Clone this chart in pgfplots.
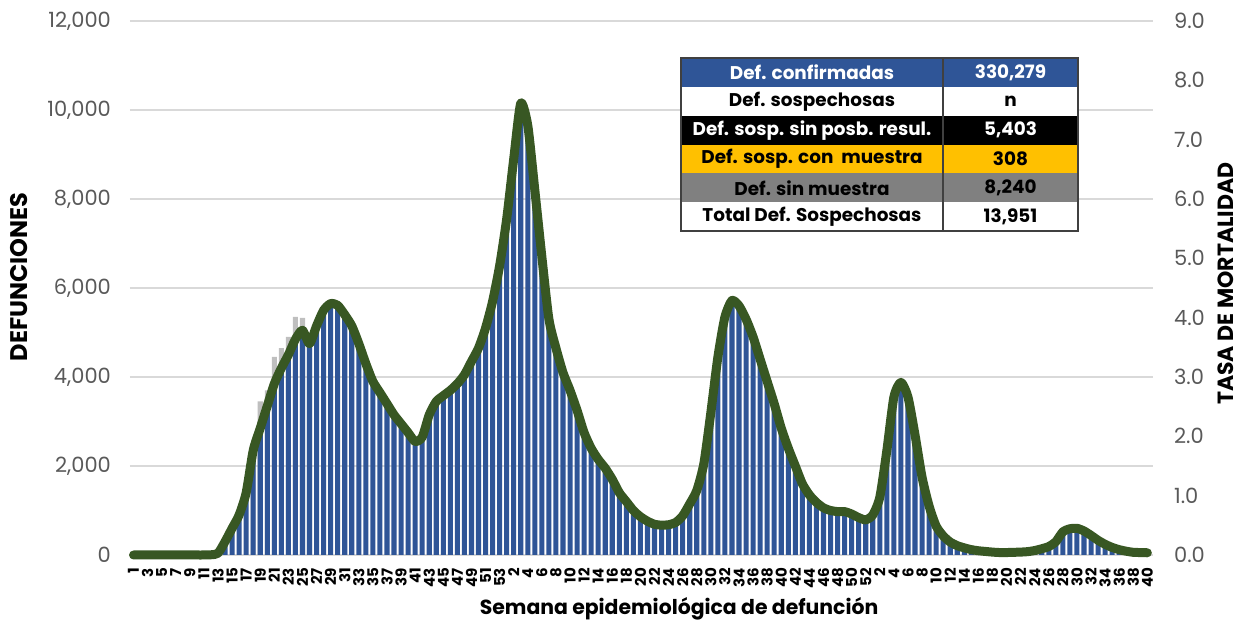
\documentclass[border=0pt]{standalone}
\usepackage{fontspec}
\setmainfont{Poppins}
\usepackage{pgfplots}
\usepackage{pgfplotstable}
\pgfplotsset{compat=1.18}
\definecolor{barblue}{RGB}{47,85,151}
\definecolor{linegreen}{RGB}{56,87,35}
\definecolor{gridgray}{RGB}{217,217,217}
\definecolor{tickgray}{RGB}{89,89,89}
\definecolor{susgray}{RGB}{191,191,191}
\definecolor{tblblue}{RGB}{47,85,151}
\definecolor{tblgold}{RGB}{255,192,0}
\definecolor{tblgray}{RGB}{128,128,128}
\definecolor{tblborder}{RGB}{64,64,64}

\pgfplotstableread{
x y
0 0
1 0
2 0
3 0
4 0
5 0
6 0
7 0
8 0
9 0
10 0
11 5
12 40
13 300
14 600
15 900
16 1400
17 2350
18 2850
19 3350
20 3850
21 4200
22 4500
23 4850
24 5050
25 4750
26 5150
27 5500
28 5650
29 5610
30 5400
31 5150
32 4750
33 4300
34 3900
35 3650
36 3400
37 3150
38 2950
39 2750
40 2550
41 2650
42 3150
43 3450
44 3580
45 3700
46 3850
47 4050
48 4350
49 4650
50 5100
51 5700
52 6500
53 7550
54 8900
55 10150
56 9650
57 8200
58 6700
59 5300
60 4650
61 4100
62 3700
63 3250
64 2750
65 2400
66 2150
67 1950
68 1700
69 1400
70 1200
71 1000
72 860
73 760
74 690
75 670
76 680
77 730
78 880
79 1150
80 1450
81 2050
82 3200
83 4450
84 5350
85 5720
86 5600
87 5300
88 4900
89 4400
90 3900
91 3400
92 2850
93 2400
94 2000
95 1600
96 1350
97 1180
98 1060
99 1000
100 975
101 975
102 920
103 840
104 790
105 900
106 1300
107 2350
108 3550
109 3880
110 3550
111 2700
112 1750
113 1100
114 650
115 430
116 290
117 210
118 160
119 120
120 95
121 80
122 65
123 55
124 55
125 60
126 65
127 75
128 100
129 140
130 190
131 300
132 520
133 590
134 600
135 540
136 440
137 330
138 240
139 170
140 120
141 85
142 60
143 55
144 50
}\deaths

\pgfplotstableread{
x y
17 2450
18 3450
19 3700
20 4450
21 4650
22 4900
23 5350
24 5330
25 4900
}\suspect

\begin{document}
\begin{tikzpicture}
\useasboundingbox (-65pt,-32.5pt) rectangle (554.5pt,277.5pt);
\begin{axis}[
  at={(0,0)}, anchor=south west,
  scale only axis, width=511.5pt, height=267pt,
  xmin=-0.5, xmax=144.8, ymin=0, ymax=12000,
  clip=false,
  scaled y ticks=false,
  axis line style={draw=none},
  major tick length=0pt,
  /pgf/number format/assume math mode=true,
  ytick={0,2000,4000,6000,8000,10000,12000},
  yticklabels={0,{2,000},{4,000},{6,000},{8,000},{10,000},{12,000}},
  yticklabel style={font=\fontsize{10.5}{12}\selectfont, text=tickgray, anchor=east},
  yticklabel shift=6pt,
  ymajorgrids, grid style={color=gridgray, line width=0.8pt},
  xtick={0,2,...,144},
  xticklabels={1,3,5,7,9,11,13,15,17,19,21,23,25,27,29,31,33,35,37,39,41,43,45,47,49,51,53,2,4,6,8,10,12,14,16,18,20,22,24,26,28,30,32,34,36,38,40,42,44,46,48,50,52,2,4,6,8,10,12,14,16,18,20,22,24,26,28,30,32,34,36,38,40},
  xticklabel style={rotate=90, anchor=east, font=\fontsize{7.5}{8}\selectfont\bfseries, text=black},
  xticklabel shift=3pt,
  xlabel={Semana epidemiológica de defunción},
  xlabel style={at={(axis description cs:0.5367,-0.1105)}, anchor=base, font=\fontsize{10.2}{12}\selectfont\bfseries},
  ylabel={DEFUNCIONES},
  ylabel style={at={(axis description cs:-0.108,0.5206)}, anchor=center, font=\fontsize{12}{13}\selectfont\bfseries},
]
\addplot[ybar, bar width=0.72, bar shift=0pt, fill=susgray, draw=none] table[x=x,y=y]{\suspect};
\addplot[ybar, bar width=0.72, bar shift=0pt, fill=barblue, draw=none] table[x=x,y=y]{\deaths};
\addplot[color=linegreen, line width=4.5pt, smooth, tension=0.4, line cap=round, line join=round, mark=none] table[x=x,y=y]{\deaths};
\end{axis}
\begin{axis}[
  at={(0,0)}, anchor=south west,
  scale only axis, width=511.5pt, height=267pt,
  xmin=-0.5, xmax=144.8, ymin=0, ymax=9,
  scaled y ticks=false,
  axis x line=none, axis y line*=right,
  axis line style={draw=none},
  major tick length=0pt,
  /pgf/number format/assume math mode=true,
  ytick={0,1,2,3,4,5,6,7,8,9},
  yticklabels={0.0,1.0,2.0,3.0,4.0,5.0,6.0,7.0,8.0,9.0},
  yticklabel style={font=\fontsize{10.5}{12}\selectfont, text=tickgray, anchor=west},
  yticklabel shift=7pt,
  ylabel={TASA DE MORTALIDAD},
  ylabel style={at={(axis description cs:1.0715,0.508)}, anchor=center, font=\fontsize{11}{12}\selectfont\bfseries},
]
\addplot[draw=none, mark=none] coordinates {(0,0)};
\end{axis}
% summary table
\def\L{275.5pt}\def\S{406.5pt}\def\R{474pt}
\foreach \i/\fc/\tc/\ta/\tb in {
  0/tblblue/white/{Def. confirmadas}/{330,279},
  1/white/black/{Def. sospechosas}/{n},
  2/black/white/{Def. sosp. sin posb. resul.}/{5,403},
  3/tblgold/black/{Def. sosp. con\ \ muestra}/{308},
  4/tblgray/black/{Def. sin muestra}/{8,240},
  5/white/black/{Total Def. Sospechosas}/{13,951}}{
  \pgfmathsetlengthmacro{\yt}{248.5pt-\i*14.42pt}
  \pgfmathsetlengthmacro{\yb}{248.5pt-(\i+1)*14.42pt}
  \pgfmathsetlengthmacro{\ym}{248.5pt-(\i+0.5)*14.42pt}
  \fill[\fc] (\L,\yb) rectangle (\R,\yt);
  \node[text=\tc, font=\fontsize{9.2}{10}\selectfont\bfseries, anchor=center] at (341pt,\ym) {\ta};
  \node[text=\tc, font=\fontsize{9.2}{10}\selectfont\bfseries, anchor=center] at (440.25pt,\ym) {\tb};
}
\draw[tblborder, line width=0.6pt] (\L,162pt) rectangle (\R,248.5pt);
\draw[tblborder, line width=0.6pt] (\S,162pt) -- (\S,248.5pt);
\end{tikzpicture}
\end{document}
